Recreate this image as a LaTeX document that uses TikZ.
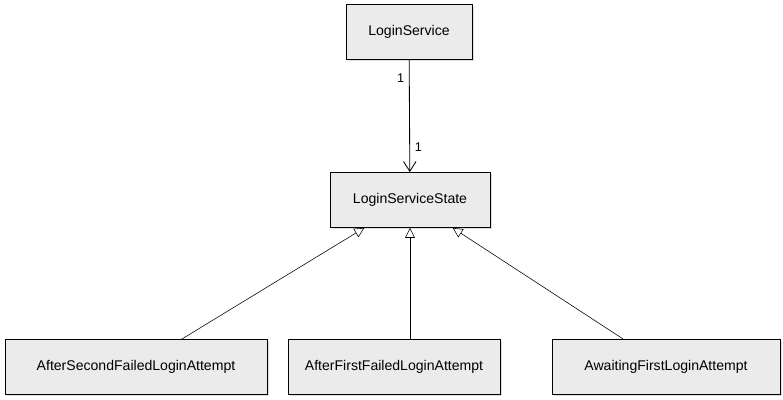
\documentclass[tikz,border=0pt]{standalone}
\usepackage{fontspec}
\setmainfont{Liberation Sans}
\usetikzlibrary{arrows.meta,shadows}
\begin{document}
\begin{tikzpicture}[x=0.025cm, y=-0.025cm, auto]
\tikzstyle{class_style} = [rectangle, draw=black, semithick, fill=black!8, minimum height=1.375cm, font=\normalsize, drop shadow={opacity=0.25, shadow xshift=1.2pt, shadow yshift=-1.2pt}]
\tikzstyle{edge_style} = [draw=black, thin, font=\small]
\useasboundingbox (0,0) rectangle (783,400);

\node[class_style, minimum width=3.15cm] (c1) at (409,32) {LoginService};
\node[class_style, minimum width=4cm] (c2) at (410,200) {LoginServiceState};

\node[class_style, minimum width=6.55cm] (c3) at (136,367) {AfterSecondFailedLoginAttempt};
\node[class_style, minimum width=5.3cm] (c4) at (394,367) {AfterFirstFailedLoginAttempt};
\node[class_style, minimum width=5.7cm] (c5) at (666,367) {AwaitingFirstLoginAttempt};

\draw[edge_style, semithick, -{Straight Barb[length=7pt, width=9pt]}] (c1) -- node[pos=0.16, swap]{1} node[pos=0.78]{1} (c2);

\draw[edge_style, -{Triangle[open, length=7pt, width=7pt]}] (c3) -- (c2);
\draw[edge_style, -{Triangle[open, length=7pt, width=7pt]}] (c4.north -| c2) -- (c2);
\draw[edge_style, -{Triangle[open, length=7pt, width=7pt]}] (c5) -- (c2);
\end{tikzpicture}
\end{document}
